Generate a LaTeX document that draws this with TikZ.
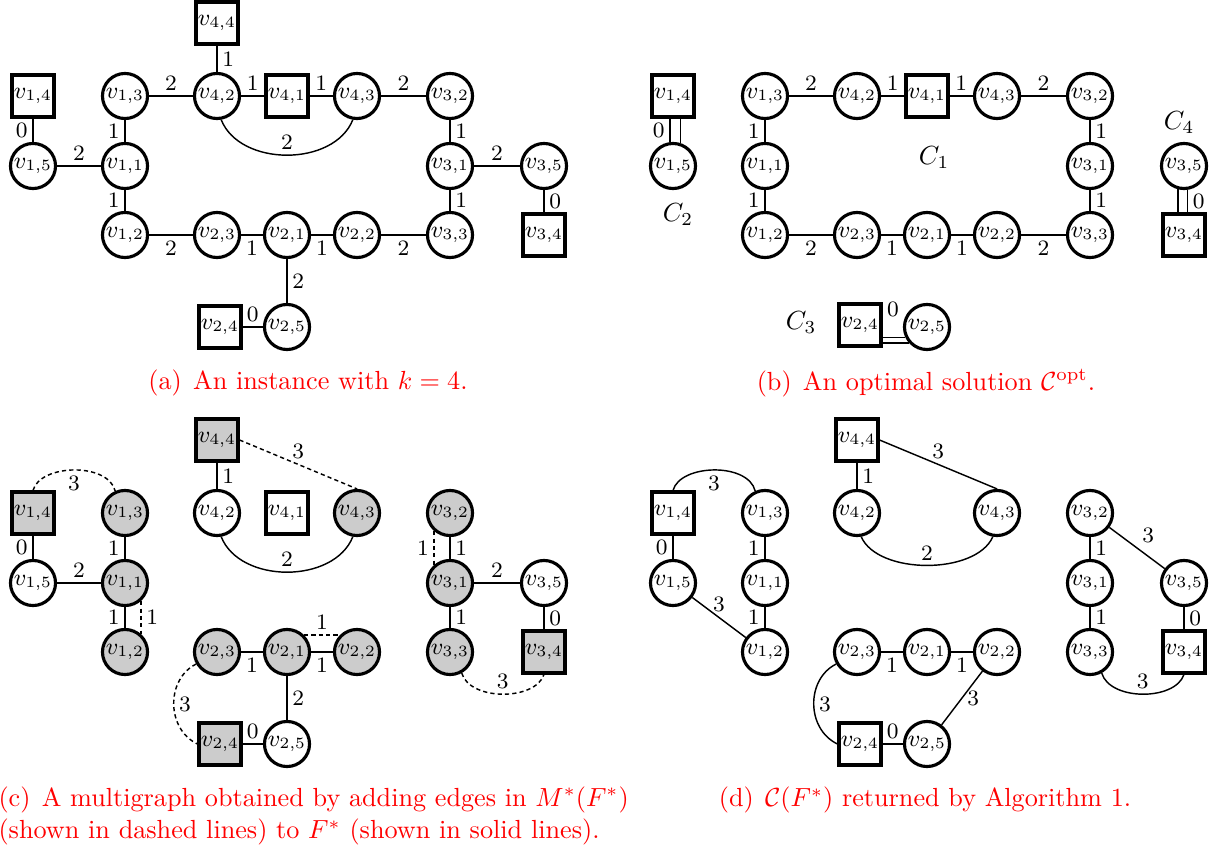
\documentclass[tikz,border=0pt]{standalone}
\usepackage{amsmath}
\begin{document}
\begin{tikzpicture}[x=0.3817pt, y=-0.3817pt,
 vc/.style={circle, draw, line width=1.2pt, minimum size=17.2pt, inner sep=0pt, font=\fontsize{8.6}{10}\selectfont},
 vs/.style={rectangle, draw, line width=1.2pt, minimum size=16pt, inner sep=0pt, font=\fontsize{8.6}{10}\selectfont},
 gr/.style={fill=black!20},
 ln/.style={line width=0.55pt},
 dln/.style={line width=0.55pt, dash pattern=on 1.6pt off 1.2pt},
 lab/.style={font=\fontsize{8.4}{9}\selectfont, inner sep=1.8pt},
 captxt/.style={text=red, font=\fontsize{10}{12.5}\selectfont},
 clab/.style={font=\fontsize{10}{12}\selectfont}]
\useasboundingbox (0,0) rectangle (1219,852);

% ---------------- (a)
\begin{scope}
\node[vs] (a44) at (217,23) {$v_{4,4}$};
\node[vs] (a14) at (33,96) {$v_{1,4}$};
\node[vc] (a15) at (33,166) {$v_{1,5}$};
\node[vc] (a13) at (125,96) {$v_{1,3}$};
\node[vc] (a11) at (125,166) {$v_{1,1}$};
\node[vc] (a12) at (125,235) {$v_{1,2}$};
\node[vc] (a42) at (217,96) {$v_{4,2}$};
\node[vs] (a41) at (287,96) {$v_{4,1}$};
\node[vc] (a43) at (357,96) {$v_{4,3}$};
\node[vc] (a32) at (450,96) {$v_{3,2}$};
\node[vc] (a31) at (450,166) {$v_{3,1}$};
\node[vc] (a35) at (544,166) {$v_{3,5}$};
\node[vs] (a34) at (544,235) {$v_{3,4}$};
\node[vc] (a23) at (217,235) {$v_{2,3}$};
\node[vc] (a21) at (287,235) {$v_{2,1}$};
\node[vc] (a22) at (357,235) {$v_{2,2}$};
\node[vc] (a33) at (450,235) {$v_{3,3}$};
\node[vs] (a24) at (220,327) {$v_{2,4}$};
\node[vc] (a25) at (287,327) {$v_{2,5}$};
\draw[ln] (a44) -- node[lab,right]{1} (a42);
\draw[ln] (a14) -- node[lab,left]{0} (a15);
\draw[ln] (a15) -- node[lab,above]{2} (a11);
\draw[ln] (a13) -- node[lab,left]{1} (a11);
\draw[ln] (a11) -- node[lab,left]{1} (a12);
\draw[ln] (a13) -- node[lab,above]{2} (a42);
\draw[ln] (a42) -- node[lab,above]{1} (a41);
\draw[ln] (a41) -- node[lab,above]{1} (a43);
\draw[ln] (a43) -- node[lab,above]{2} (a32);
\draw[ln] (a42.-80) .. controls (240,167) and (334,167) .. node[lab,above]{2} (a43.-100);
\draw[ln] (a32) -- node[lab,right]{1} (a31);
\draw[ln] (a31) -- node[lab,right]{1} (a33);
\draw[ln] (a31) -- node[lab,above]{2} (a35);
\draw[ln] (a35) -- node[lab,right]{0} (a34);
\draw[ln] (a12) -- node[lab,below]{2} (a23);
\draw[ln] (a23) -- node[lab,below]{1} (a21);
\draw[ln] (a21) -- node[lab,below]{1} (a22);
\draw[ln] (a22) -- node[lab,below]{2} (a33);
\draw[ln] (a21) -- node[lab,right]{2} (a25);
\draw[ln] (a24) -- node[lab,above]{0} (a25);
\end{scope}

% ---------------- (b)
\begin{scope}[shift={(640,0)}]
\node[vs] (b14) at (33,96) {$v_{1,4}$};
\node[vc] (b15) at (33,166) {$v_{1,5}$};
\node[vc] (b13) at (125,96) {$v_{1,3}$};
\node[vc] (b11) at (125,166) {$v_{1,1}$};
\node[vc] (b12) at (125,235) {$v_{1,2}$};
\node[vc] (b42) at (217,96) {$v_{4,2}$};
\node[vs] (b41) at (287,96) {$v_{4,1}$};
\node[vc] (b43) at (357,96) {$v_{4,3}$};
\node[vc] (b32) at (450,96) {$v_{3,2}$};
\node[vc] (b31) at (450,166) {$v_{3,1}$};
\node[vc] (b35) at (544,166) {$v_{3,5}$};
\node[vs] (b34) at (544,235) {$v_{3,4}$};
\node[vc] (b23) at (217,235) {$v_{2,3}$};
\node[vc] (b21) at (287,235) {$v_{2,1}$};
\node[vc] (b22) at (357,235) {$v_{2,2}$};
\node[vc] (b33) at (450,235) {$v_{3,3}$};
\node[vs] (b24) at (220,325) {$v_{2,4}$};
\node[vc] (b25) at (287,327) {$v_{2,5}$};
\draw[ln] (b15.97 |- b14.south) -- node[lab,left]{0} (b15.97);
\draw[ln] (b15.72 |- b14.south) -- (b15.72);
\draw[ln] (b13) -- node[lab,above]{2} (b42);
\draw[ln] (b42) -- node[lab,above]{1} (b41);
\draw[ln] (b41) -- node[lab,above]{1} (b43);
\draw[ln] (b43) -- node[lab,above]{2} (b32);
\draw[ln] (b13) -- node[lab,left]{1} (b11);
\draw[ln] (b11) -- node[lab,left]{1} (b12);
\draw[ln] (b32) -- node[lab,right]{1} (b31);
\draw[ln] (b31) -- node[lab,right]{1} (b33);
\draw[ln] (b12) -- node[lab,below]{2} (b23);
\draw[ln] (b23) -- node[lab,below]{1} (b21);
\draw[ln] (b21) -- node[lab,below]{1} (b22);
\draw[ln] (b22) -- node[lab,below]{2} (b33);
\draw[ln] (b35.255) -- (b35.255 |- b34.north);
\draw[ln] (b35.278) -- node[lab,right]{0} (b35.278 |- b34.north);
\draw[ln] (b24.east |- b25.206) -- (b25.206);
\draw[ln] (b24.east |- b25.222) -- (b25.222);
\node[lab] (b0) at (253,309) {0};
\node[clab] (C2) at (38,215) {$C_2$};
\node[clab] (C1) at (294,158) {$C_1$};
\node[clab] (C4) at (539,123) {$C_4$};
\node[clab] (C3) at (161,323) {$C_3$};
\end{scope}

% ---------------- (c)
\begin{scope}[shift={(0,417)}]
\node[vs,gr] (c44) at (217,23) {$v_{4,4}$};
\node[vs,gr] (c14) at (33,96) {$v_{1,4}$};
\node[vc] (c15) at (33,166) {$v_{1,5}$};
\node[vc,gr] (c13) at (125,96) {$v_{1,3}$};
\node[vc,gr] (c11) at (125,166) {$v_{1,1}$};
\node[vc,gr] (c12) at (125,235) {$v_{1,2}$};
\node[vc] (c42) at (217,96) {$v_{4,2}$};
\node[vs] (c41) at (287,96) {$v_{4,1}$};
\node[vc,gr] (c43) at (357,96) {$v_{4,3}$};
\node[vc,gr] (c32) at (450,96) {$v_{3,2}$};
\node[vc,gr] (c31) at (450,166) {$v_{3,1}$};
\node[vc] (c35) at (544,166) {$v_{3,5}$};
\node[vs,gr] (c34) at (544,235) {$v_{3,4}$};
\node[vc,gr] (c23) at (217,235) {$v_{2,3}$};
\node[vc,gr] (c21) at (287,235) {$v_{2,1}$};
\node[vc,gr] (c22) at (357,235) {$v_{2,2}$};
\node[vc,gr] (c33) at (450,235) {$v_{3,3}$};
\node[vs,gr] (c24) at (220,327) {$v_{2,4}$};
\node[vc] (c25) at (287,327) {$v_{2,5}$};
\draw[ln] (c44) -- node[lab,right]{1} (c42);
\draw[dln] (c44.east) -- node[lab,above]{3} (c43.north);
\draw[dln] (c14.north) .. controls (40,47) and (108,45) .. node[lab,below]{3} (c13.114);
\draw[ln] (c14) -- node[lab,left]{0} (c15);
\draw[ln] (c15) -- node[lab,above]{2} (c11);
\draw[ln] (c13) -- node[lab,left]{1} (c11);
\draw[ln] (c11) -- node[lab,left]{1} (c12);
\draw[dln] (c11.-49) -- node[lab,right]{1} (c12.49);
\draw[ln] (c42.-80) .. controls (240,167) and (334,167) .. node[lab,above]{2} (c43.-100);
\draw[ln] (c32) -- node[lab,right]{1} (c31);
\draw[dln] (c32.-131) -- node[lab,left]{1} (c31.131);
\draw[ln] (c31) -- node[lab,right]{1} (c33);
\draw[ln] (c31) -- node[lab,above]{2} (c35);
\draw[ln] (c35) -- node[lab,right]{0} (c34);
\draw[dln] (c33.-61) .. controls (470,284) and (535,284) .. node[lab,above]{3} (c34.south);
\draw[ln] (c23) -- node[lab,below]{1} (c21);
\draw[ln] (c21) -- node[lab,below]{1} (c22);
\draw[dln] (c21.45) -- node[lab,above]{1} (c22.135);
\draw[ln] (c21) -- node[lab,right]{2} (c25);
\draw[ln] (c24) -- node[lab,above]{0} (c25);
\draw[dln] (c23.210) .. controls (166,262) and (166,312) .. node[lab,right]{3} (c24.west);
\end{scope}

% ---------------- (d)
\begin{scope}[shift={(640,417)}]
\node[vs] (d44) at (217,23) {$v_{4,4}$};
\node[vs] (d14) at (33,96) {$v_{1,4}$};
\node[vc] (d15) at (33,166) {$v_{1,5}$};
\node[vc] (d13) at (125,96) {$v_{1,3}$};
\node[vc] (d11) at (125,166) {$v_{1,1}$};
\node[vc] (d12) at (125,235) {$v_{1,2}$};
\node[vc] (d42) at (217,96) {$v_{4,2}$};
\node[vc] (d43) at (357,96) {$v_{4,3}$};
\node[vc] (d32) at (450,96) {$v_{3,2}$};
\node[vc] (d31) at (450,166) {$v_{3,1}$};
\node[vc] (d35) at (544,166) {$v_{3,5}$};
\node[vs] (d34) at (544,235) {$v_{3,4}$};
\node[vc] (d23) at (217,235) {$v_{2,3}$};
\node[vc] (d21) at (287,235) {$v_{2,1}$};
\node[vc] (d22) at (357,235) {$v_{2,2}$};
\node[vc] (d33) at (450,235) {$v_{3,3}$};
\node[vs] (d24) at (220,327) {$v_{2,4}$};
\node[vc] (d25) at (287,327) {$v_{2,5}$};
\draw[ln] (d14.north) .. controls (40,47) and (108,45) .. node[lab,below]{3} (d13.114);
\draw[ln] (d14) -- node[lab,left]{0} (d15);
\draw[ln] (d13) -- node[lab,left]{1} (d11);
\draw[ln] (d11) -- node[lab,left]{1} (d12);
\draw[ln] (d15) -- node[lab,above]{3} (d12);
\draw[ln] (d44) -- node[lab,right]{1} (d42);
\draw[ln] (d44.east) -- node[lab,above]{3} (d43.north);
\draw[ln] (d42.-80) .. controls (238,158) and (336,158) .. node[lab,above]{2} (d43.-100);
\draw[ln] (d32) -- node[lab,right]{1} (d31);
\draw[ln] (d31) -- node[lab,right]{1} (d33);
\draw[ln] (d32) -- node[lab,above right]{3} (d35);
\draw[ln] (d35) -- node[lab,right]{0} (d34);
\draw[ln] (d33.-61) .. controls (470,284) and (535,284) .. node[lab,above]{3} (d34.south);
\draw[ln] (d23) -- node[lab,below]{1} (d21);
\draw[ln] (d21) -- node[lab,below]{1} (d22);
\draw[ln] (d22) -- node[lab,right]{3} (d25);
\draw[ln] (d24) -- node[lab,above]{0} (d25);
\draw[ln] (d23.210) .. controls (166,262) and (166,312) .. node[lab,right]{3} (d24.west);
\end{scope}

% ---------------- captions
\node[captxt] (capa) at (308,383) {(a)\hspace{4.3pt}An instance with $k=4$.};
\node[captxt] (capb) at (926,383) {(b)\hspace{4.3pt}An optimal solution $\mathcal{C}^{\mathrm{opt}}$.};
\node[captxt, anchor=west, align=left, inner sep=0pt] (capc) at (-2,816) {(c)\hspace{4.3pt}A multigraph obtained by adding edges in $M^*(F^*)$\\(shown in dashed lines) to $F^*$ (shown in solid lines).};
\node[captxt] (capd) at (925,800) {(d)\hspace{4.3pt}$\mathcal{C}(F^*)$ returned by Algorithm 1.};
\end{tikzpicture}
\end{document}
